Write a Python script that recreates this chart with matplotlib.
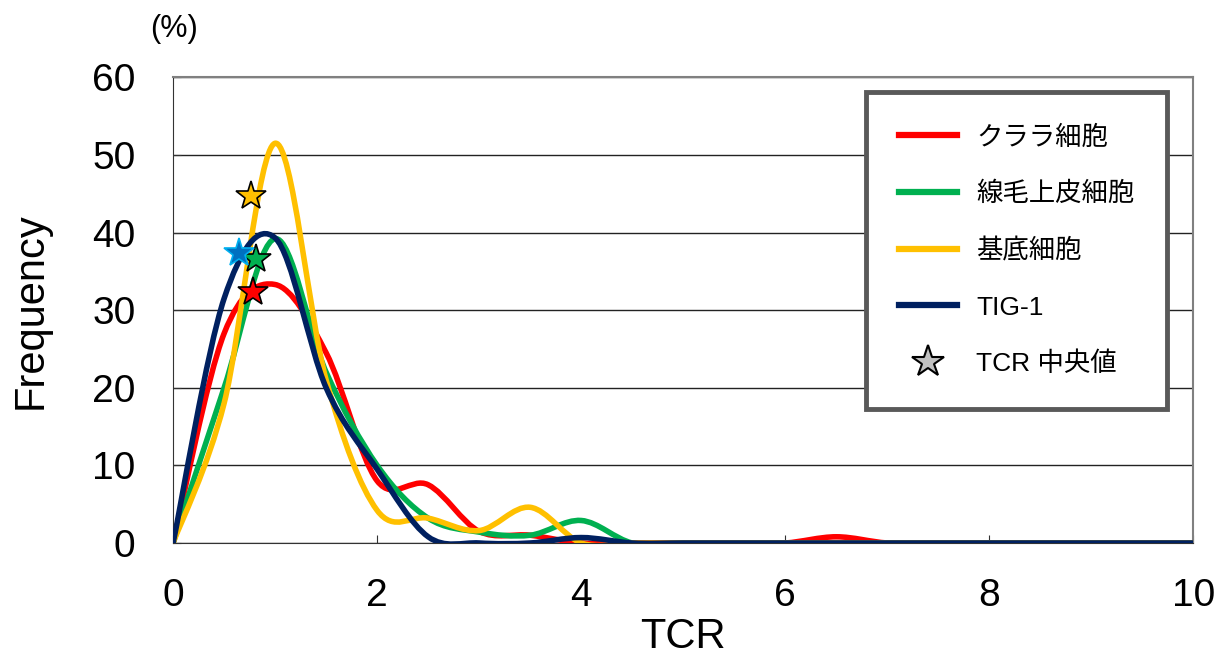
import matplotlib.pyplot as plt
from matplotlib.path import Path
from matplotlib.patches import PathPatch
from matplotlib.lines import Line2D

plt.rcParams['font.family'] = ['Liberation Sans', 'Noto Sans CJK JP', 'DejaVu Sans']

# TCR bins (0.5 steps) and frequency (%)
tcr = [0, 0.5, 1.0, 1.5, 2.0, 2.5, 3.0, 3.5, 4.0, 4.5, 5.0, 5.5, 6.0, 6.5, 7.0,
       7.5, 8.0, 8.5, 9.0, 9.5, 10.0]
clara = [0, 27, 33.3, 24.5, 8, 7.5, 1.5, 1.0, 0, 0, 0, 0, 0, 0.8, 0,
         0, 0, 0, 0, 0, 0]
ciliated = [0, 20, 39.2, 22, 10, 3.2, 1.4, 1.0, 2.9, 0, 0, 0, 0, 0, 0,
            0, 0, 0, 0, 0, 0]
basal = [0, 18, 51.5, 21, 4.2, 3.2, 1.6, 4.6, 0, 0, 0, 0, 0, 0, 0,
         0, 0, 0, 0, 0, 0]
tig1 = [0, 31.5, 39.3, 20, 9.5, 0.8, 0, 0, 0.7, 0, 0, 0, 0, 0, 0,
        0, 0, 0, 0, 0, 0]

# TCR medians
med_x = [0.78, 0.81, 0.76, 0.65]
med_y = [32.3, 36.6, 44.7, 37.3]

names = ['クララ細胞', '線毛上皮細胞', '基底細胞', 'TIG-1']
colors = ['#FF0000', '#00B050', '#FFC000', '#002060']
star_fc = ['#FF0000', '#00B050', '#FFC000', '#0070C0']
star_ec = ['black', 'black', 'black', '#00B0F0']


def smooth_path(x, y):
    # Excel-like smoothed line: cubic bezier through every point
    n = len(x)
    verts = [(x[0], y[0])]
    codes = [Path.MOVETO]
    for i in range(n - 1):
        x0, y0 = (x[i - 1], y[i - 1]) if i > 0 else (x[i], y[i])
        x3, y3 = (x[i + 2], y[i + 2]) if i + 2 < n else (x[i + 1], y[i + 1])
        c1 = (x[i] + (x[i + 1] - x0) / 6, y[i] + (y[i + 1] - y0) / 6)
        c2 = (x[i + 1] - (x3 - x[i]) / 6, y[i + 1] - (y3 - y[i]) / 6)
        verts += [c1, c2, (x[i + 1], y[i + 1])]
        codes += [Path.CURVE4] * 3
    return Path(verts, codes)


fig = plt.figure(figsize=(12.19, 6.55), dpi=100)
ax = fig.add_axes([0.142, 0.171, 0.837, 0.711])

for ys, c in zip([clara, ciliated, basal, tig1], colors):
    ax.add_patch(PathPatch(smooth_path(tcr, ys), fill=False, edgecolor=c,
                           lw=4, capstyle='round', joinstyle='round', zorder=3))

for i in range(4):
    ax.plot(med_x[i], med_y[i], marker='*', ms=22, mfc=star_fc[i],
            mec=star_ec[i], mew=1.2, ls='none', zorder=5)

ax.set_xlim(0, 10)
ax.set_ylim(0, 60)
ax.set_xticks([0, 2, 4, 6, 8, 10])
ax.set_yticks([0, 10, 20, 30, 40, 50, 60])
ax.yaxis.grid(True, color='#222222', lw=1)
ax.set_axisbelow(True)
ax.tick_params(axis='both', direction='in', labelsize=28, length=6,
               color='#333333')
ax.tick_params(axis='y', pad=27)
ax.tick_params(axis='x', pad=25)
for s in ['top', 'right']:
    ax.spines[s].set_color('#808080')
    ax.spines[s].set_linewidth(1.5)
ax.spines['left'].set_color('#333333')
ax.spines['bottom'].set_color('#333333')
ax.set_xlabel('TCR', fontsize=30)
ax.xaxis.set_label_coords(0.5, -0.158)
ax.set_ylabel('Frequency', fontsize=30)
ax.yaxis.set_label_coords(-0.12, 0.5)
fig.text(0.123, 0.956, '(%)', fontsize=22, ha='left', va='center')

handles = [Line2D([], [], color=c, lw=4.5) for c in colors]
handles.append(Line2D([], [], marker='*', ms=24, mfc='#C0C0C0', mec='black',
                      mew=1.5, ls='none'))
leg = ax.legend(handles, names + ['TCR 中央値'], loc='upper right',
                bbox_to_anchor=(0.9745, 0.968), fontsize=19, frameon=True,
                fancybox=False, handlelength=2.2, handletextpad=0.72,
                labelspacing=1.22, borderpad=1.25, borderaxespad=0)
leg.get_frame().set_edgecolor('#595959')
leg.get_frame().set_linewidth(3.5)
leg.get_frame().set_alpha(1)

fig.savefig('out.png', dpi=100)
